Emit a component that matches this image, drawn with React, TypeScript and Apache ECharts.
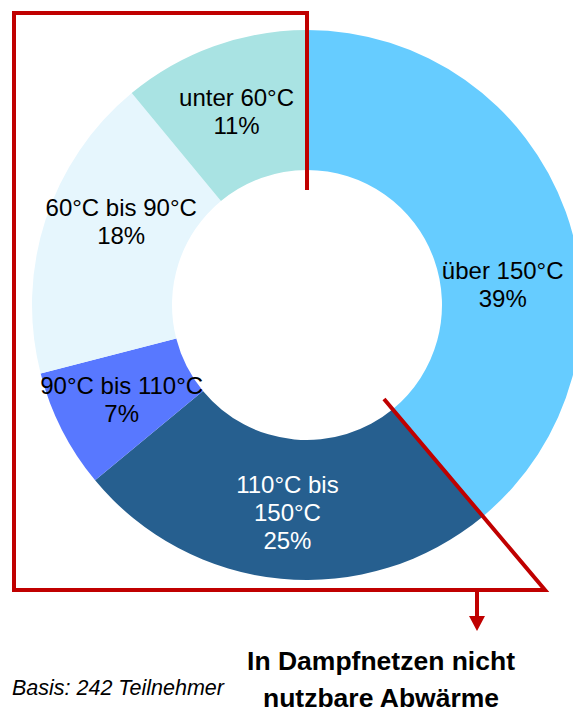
import React, { useEffect, useRef } from "react";
import * as echarts from "echarts";

// Temperaturbereiche der Abwärme (Anteile in %)
const categories = [
  "über 150°C",
  "110°C bis\n150°C",
  "90°C bis 110°C",
  "60°C bis 90°C",
  "unter 60°C",
];
const shares = [39, 25, 7, 18, 11];
const sliceColors = ["#66CCFF", "#265F8F", "#5878FF", "#E6F6FD", "#A9E3E3"];
const labelColors = ["#000000", "#FFFFFF", "#000000", "#000000", "#000000"];

const titleLines = ["In Dampfnetzen nicht", "nutzbare Abwärme"];
const basisNote = "Basis: 242 Teilnehmer";

const FONT = "Liberation Sans, Arial, sans-serif";
const RED = "#C00000";

export default function App() {
  const ref = useRef<HTMLDivElement>(null);

  useEffect(() => {
    if (!ref.current) return;
    const chart = echarts.init(ref.current, undefined, { renderer: "svg" });

    const data = categories.map((name, i) => ({
      name,
      value: shares[i],
      itemStyle: { color: sliceColors[i] },
      label: { color: labelColors[i] },
    }));

    chart.setOption({
      animation: false,
      backgroundColor: "#FFFFFF",
      series: [
        {
          type: "pie",
          center: [307, 305],
          radius: [135, 275],
          startAngle: 90,
          clockwise: true,
          avoidLabelOverlap: false,
          silent: true,
          data,
          label: {
            show: true,
            position: "inside",
            formatter: "{b}\n{c}%",
            fontFamily: FONT,
            fontSize: 24,
            lineHeight: 28,
          },
          labelLine: { show: false },
          labelLayout: (p: any) => {
            if (p.dataIndex === 0) return { dy: 50 };
            if (p.dataIndex === 3) return { dx: 12, dy: -19 };
            if (p.dataIndex === 4) return { dy: 2 };
            return {};
          },
        },
      ],
      graphic: [
        {
          type: "polyline",
          z: 100,
          shape: {
            points: [
              [307, 190],
              [307, 13],
              [14, 13],
              [14, 590],
              [545, 590],
              [384, 399],
            ],
          },
          style: { stroke: RED, lineWidth: 4, fill: null, lineJoin: "miter" },
        },
        {
          type: "line",
          z: 100,
          shape: { x1: 477, y1: 590, x2: 477, y2: 618 },
          style: { stroke: RED, lineWidth: 4 },
        },
        {
          type: "polygon",
          z: 100,
          shape: {
            points: [
              [469, 616],
              [485, 616],
              [477, 631],
            ],
          },
          style: { fill: RED },
        },
        {
          type: "text",
          z: 100,
          x: 381,
          y: 661,
          style: {
            text: titleLines[0],
            font: `bold 26.5px ${FONT}`,
            fill: "#000000",
            align: "center",
            verticalAlign: "middle",
          },
        },
        {
          type: "text",
          z: 100,
          x: 381,
          y: 698,
          style: {
            text: titleLines[1],
            font: `bold 26.5px ${FONT}`,
            fill: "#000000",
            align: "center",
            verticalAlign: "middle",
          },
        },
        {
          type: "text",
          z: 100,
          x: 12,
          y: 688,
          style: {
            text: basisNote,
            font: `italic 21.5px ${FONT}`,
            fill: "#000000",
            align: "left",
            verticalAlign: "middle",
          },
        },
      ],
    });

    return () => chart.dispose();
  }, []);

  return (
    <div
      ref={ref}
      style={{ position: "fixed", left: 0, top: 0, width: 573, height: 713 }}
    />
  );
}
